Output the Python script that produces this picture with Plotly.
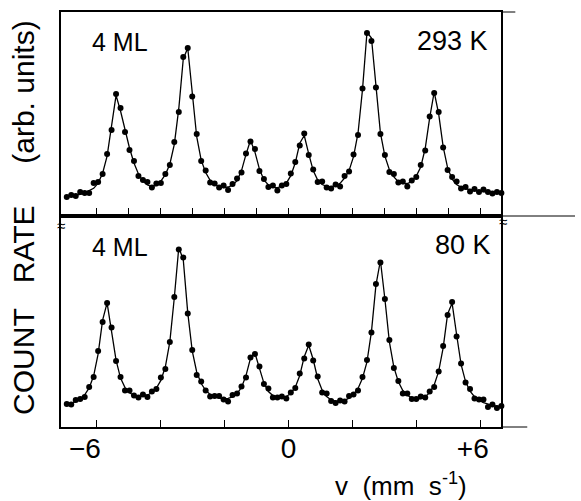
import plotly.graph_objects as go

# Velocity channels (mm/s)
velocity = [-6.93, -6.79, -6.65, -6.51, -6.37, -6.23, -6.09, -5.95, -5.81, -5.67,
            -5.53, -5.39, -5.25, -5.11, -4.97, -4.83, -4.69, -4.55, -4.41, -4.27,
            -4.13, -3.99, -3.85, -3.71, -3.57, -3.43, -3.29, -3.15, -3.01, -2.87,
            -2.73, -2.59, -2.45, -2.31, -2.17, -2.03, -1.89, -1.75, -1.61, -1.47,
            -1.33, -1.19, -1.05, -0.91, -0.77, -0.63, -0.49, -0.35, -0.21, -0.07,
            0.07, 0.21, 0.35, 0.49, 0.63, 0.77, 0.91, 1.05, 1.19, 1.33,
            1.47, 1.61, 1.75, 1.89, 2.03, 2.17, 2.31, 2.45, 2.59, 2.73,
            2.87, 3.01, 3.15, 3.29, 3.43, 3.57, 3.71, 3.85, 3.99, 4.13,
            4.27, 4.41, 4.55, 4.69, 4.83, 4.97, 5.11, 5.25, 5.39, 5.53,
            5.67, 5.81, 5.95, 6.09, 6.23, 6.37, 6.51, 6.65]

# 293 K spectrum (arb. units): measured points and fitted curve
counts_293 = [19, 21, 20, 24, 23, 23, 33, 34, 42, 62,
              86, 122, 108, 84, 66, 55, 40, 36, 34, 28.5,
              32.5, 33, 42, 51, 74, 104, 159, 168, 119.5, 82,
              55, 45.5, 33.5, 32.5, 28.5, 30.5, 26, 32, 37.5, 43.5,
              62.5, 74.5, 67, 45, 37, 29, 30.5, 25.5, 30.5, 32,
              42.5, 54, 70.5, 82.5, 61, 46.5, 34, 34.5, 28.5, 27.5,
              31.5, 29.5, 40, 44.5, 61.5, 81, 127.5, 183, 175, 128.5,
              82, 61, 44, 42, 33.5, 34.5, 29.5, 35.5, 39, 51,
              65.5, 99.5, 123, 104, 68.5, 46, 39, 34.5, 27.5, 29,
              24.5, 27, 24, 26.5, 24, 22.5, 24, 23]
fit_293 = [19.1, 19.8, 20.5, 21.6, 23.1, 25.2, 27.7, 32.9, 42.8, 59.9,
           88.2, 120.6, 105.0, 85.0, 68.0, 53.0, 42.0, 35.0, 31.0, 29.5,
           30.5, 34.8, 41.4, 51.8, 71.7, 107.3, 157.0, 168.0, 121.5, 79.3,
           55.8, 43.5, 35.6, 31.5, 29.5, 28.4, 29.0, 30.8, 35.4, 45.4,
           61.6, 75.7, 63.9, 46.9, 36.1, 31.0, 28.7, 28.3, 29.6, 32.8,
           40.4, 53.2, 72.7, 80.5, 62.1, 45.4, 35.9, 31.5, 29.6, 29.3,
           30.3, 32.7, 38.0, 45.4, 59.4, 82.8, 126.4, 183.8, 178.0, 126.6,
           83.2, 59.8, 46.2, 39.1, 34.3, 32.4, 32.5, 34.4, 39.9, 49.0,
           67.6, 98.3, 124.0, 102.2, 69.3, 48.1, 36.9, 31.5, 28.6, 27.1,
           26.3, 26.1, 25.1, 24.4, 23.9, 23.4, 23.1, 22.8]

# 80 K spectrum (arb. units): measured points and fitted curve
counts_80 = [23, 22.5, 27, 28, 30, 40, 50, 76, 105, 124,
             99.5, 66, 50, 36.5, 36.5, 31.5, 29.5, 32.5, 30, 35.5,
             38, 49.5, 58, 85, 130, 177.5, 169.5, 113.5, 77, 52,
             45.5, 36.5, 30.5, 31, 31, 27.5, 25.5, 32, 33.5, 40.5,
             49.5, 69.5, 73, 60.5, 43, 38.5, 29.5, 29.5, 30.5, 28.5,
             34.5, 39, 53.5, 68.5, 82.5, 66.5, 50.5, 34.5, 33.5, 26,
             24, 26.5, 25.5, 31, 32.5, 36.5, 50, 67, 94.5, 143,
             164.5, 128, 87, 59, 46, 33.5, 33.5, 28, 28, 30.5,
             29.5, 35.5, 40, 55.5, 81, 112, 125, 90.5, 63.5, 44.5,
             38, 28.5, 27.5, 27.5, 20, 22.5, 19, 21]
fit_80 = [22.1, 23.4, 25.3, 28.0, 32.1, 39.1, 51.2, 73.2, 106.9, 124.1,
          97.4, 66.8, 48.9, 39.4, 34.3, 31.6, 30.6, 30.6, 31.8, 34.4,
          38.9, 46.6, 60.2, 85.2, 129.3, 179.5, 167.3, 114.4, 76.2, 55.0,
          43.5, 36.7, 32.6, 30.2, 28.8, 28.3, 28.7, 30.1, 33.4, 39.6,
          51.4, 68.6, 73.8, 58.5, 43.9, 35.5, 31.4, 29.6, 29.4, 30.5,
          33.5, 39.8, 51.5, 70.3, 81.7, 67.5, 48.3, 36.7, 30.5, 27.1,
          25.9, 25.7, 26.6, 28.8, 32.3, 38.6, 48.8, 65.2, 95.4, 141.9,
          166.5, 128.0, 85.2, 59.8, 45.2, 36.5, 31.7, 29.1, 28.0, 28.4,
          30.3, 34.3, 42.0, 55.6, 79.1, 113.0, 123.8, 92.5, 62.6, 45.4,
          35.8, 30.3, 26.7, 24.4, 22.8, 21.7, 20.8, 20.2]

top_ticks = [-6, -5, -4, -3, -2, -1, 0, 1, 2, 3, 4, 5, 6]
bottom_ticks = [-6, -4, -2, 0, 2, 4, 6]
bottom_ticktext = ["\u22126\u00a0\u00a0\u00a0", "\u00a0", "\u00a0", "0", "\u00a0", "\u00a0", "+6\u00a0\u00a0"]

W, H = 581, 501
FONT = "Liberation Sans, Arial, sans-serif"


def px(x):
    return x / W


def py(y):
    return 1 - y / H


fig = go.Figure()
line_style = dict(color="black", width=1.3)
marker_style = dict(color="black", size=6)

fig.add_trace(go.Scatter(x=velocity, y=fit_293, mode="lines", line=line_style,
                         xaxis="x", yaxis="y", hoverinfo="skip"))
fig.add_trace(go.Scatter(x=velocity, y=counts_293, mode="markers", marker=marker_style,
                         xaxis="x", yaxis="y", cliponaxis=False))
fig.add_trace(go.Scatter(x=velocity, y=fit_80, mode="lines", line=line_style,
                         xaxis="x2", yaxis="y2", hoverinfo="skip"))
fig.add_trace(go.Scatter(x=velocity, y=counts_80, mode="markers", marker=marker_style,
                         xaxis="x2", yaxis="y2", cliponaxis=False))

xdom = [px(61), px(504)]
xr = [-7.12, 6.65]
axis_common = dict(showline=True, mirror=True, linecolor="black", linewidth=1.5,
                   showgrid=False, zeroline=False)

fig.update_layout(
    width=W, height=H,
    margin=dict(l=0, r=0, t=0, b=0),
    paper_bgcolor="white", plot_bgcolor="white",
    showlegend=False,
    font=dict(family=FONT, color="black"),
    xaxis=dict(domain=xdom, anchor="y", range=xr, tickmode="array", tickvals=top_ticks,
               ticks="inside", ticklen=8, tickwidth=1.3, tickcolor="black",
               showticklabels=False, **axis_common),
    yaxis=dict(domain=[py(216), py(12)], anchor="x", range=[0, 204],
               showticklabels=False, ticks="", **axis_common),
    xaxis2=dict(domain=xdom, anchor="y2", range=xr, tickmode="array", tickvals=bottom_ticks,
                ticktext=bottom_ticktext, ticks="inside", ticklen=7, tickwidth=1.3,
                tickcolor="black", tickfont=dict(size=28, family=FONT, color="black"),
                ticklabelstandoff=-4, **axis_common),
    yaxis2=dict(domain=[py(427), py(216)], anchor="x2", range=[0, 211],
                showticklabels=False, ticks="", **axis_common),
)

annotations = [
    dict(text="4\u00a0ML", x=px(90), y=py(42), xanchor="left", yanchor="middle",
         font=dict(size=25)),
    dict(text="293\u00a0K", x=px(493), y=py(41), xanchor="right", yanchor="middle",
         font=dict(size=27)),
    dict(text="4\u00a0ML", x=px(90), y=py(247), xanchor="left", yanchor="middle",
         font=dict(size=25)),
    dict(text="80\u00a0K", x=px(496), y=py(245), xanchor="right", yanchor="middle",
         font=dict(size=27)),
    dict(text="\u2248", x=px(61), y=py(225), xanchor="center", yanchor="middle",
         font=dict(size=15)),
    dict(text="\u2248", x=px(506), y=py(221), xanchor="center", yanchor="middle",
         font=dict(size=15)),
    dict(text="COUNT\u00a0\u00a0\u00a0RATE\u00a0\u00a0\u00a0\u00a0\u00a0(arb.\u00a0units)",
         textangle=-90, x=px(23), y=py(217), xanchor="center", yanchor="middle",
         font=dict(size=30)),
    dict(text="v\u00a0\u00a0(mm\u00a0\u00a0s<sup>-1</sup>)", x=px(403), y=py(484),
         xanchor="center", yanchor="middle", font=dict(size=26)),
]
for a in annotations:
    a.update(xref="paper", yref="paper", showarrow=False)
fig.update_layout(annotations=annotations)

shapes = [
    dict(x0=px(504), x1=px(578), y0=py(216), y1=py(216)),
    dict(x0=px(504), x1=px(518), y0=py(12), y1=py(12)),
    dict(x0=px(505), x1=px(530), y0=py(427), y1=py(427)),
]
for s in shapes:
    s.update(type="line", xref="paper", yref="paper", line=dict(color="black", width=1))
fig.update_layout(shapes=shapes)

fig.write_html("out.html", config={"displayModeBar": False},
               post_script="document.body.style.margin='0';document.body.style.padding='0';")
